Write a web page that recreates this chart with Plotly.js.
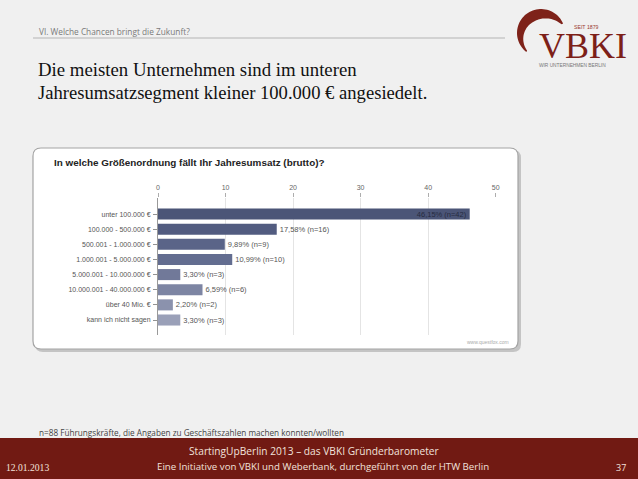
<!DOCTYPE html>
<html><head><meta charset="utf-8">
<script src="https://cdn.plot.ly/plotly-3.0.1.min.js"></script>
<style>html,body{margin:0;padding:0;background:#f0f0f0;}#chart{width:638px;height:479px;}</style>
</head><body><div id="chart"></div>
<script>
const categories = ["unter 100.000 €","100.000 - 500.000 €","500.001 - 1.000.000 €","1.000.001 - 5.000.000 €","5.000.001 - 10.000.000 €","10.000.001 - 40.000.000 €","über 40 Mio. €","kann ich nicht sagen"];
const percents = [46.15, 17.58, 9.89, 10.99, 3.30, 6.59, 2.20, 3.30];
const counts = [42, 16, 9, 10, 3, 6, 2, 3];
const barColors = ["#4b5577","#525c80","#5a6488","#636d90","#717999","#7d85a3","#8b92ad","#9aa0b8"];
const xTicks = [0, 10, 20, 30, 40, 50];

const W = 638, H = 479;
const px = x => x / W;
const py = y => 1 - y / H;

const labels = percents.map((p, i) => p.toFixed(2).replace('.', ',') + '% (n=' + counts[i] + ')');
const positions = percents.map((p, i) => i === 0 ? 'inside' : 'outside');

const trace = {
  type: 'bar', orientation: 'h',
  x: percents, y: categories,
  marker: {color: barColors, line: {width: 0}},
  text: labels, textposition: positions, insidetextanchor: 'end',
  constraintext: 'none', textangle: 0, cliponaxis: false,
  textfont: {family: 'Liberation Sans, Arial, sans-serif', size: 7.5, color: '#555'},
  insidetextfont: {family: 'Liberation Sans, Arial, sans-serif', size: 7.5, color: '#262b40'},
  outsidetextfont: {family: 'Liberation Sans, Arial, sans-serif', size: 7.5, color: '#555'},
  hoverinfo: 'skip'
};

function pathFrom(pts) {
  return 'M' + pts.map(p => px(p[0]).toFixed(5) + ',' + py(p[1]).toFixed(5)).join(' L') + ' Z';
}
// logo crescent: screen angles (y down), from upper right over the top, down the left side
function crescent() {
  const cx = 541, cy = 33, R = 24, pts = [];
  const a0 = -23, a1 = -232, n = 48;
  for (let i = 0; i <= n; i++) {
    const a = (a0 + (a1 - a0) * i / n) * Math.PI / 180;
    pts.push([cx + R * Math.cos(a), cy + R * Math.sin(a)]);
  }
  for (let i = n; i >= 0; i--) {
    const t = i / n;
    const a = (a0 + (a1 - a0) * t) * Math.PI / 180;
    const th = 1.5 + 9 * Math.sin(Math.PI * Math.pow(t, 0.85));
    pts.push([cx + (R - th) * Math.cos(a), cy + (R - th) * Math.sin(a)]);
  }
  return pathFrom(pts);
}
function roundRect(x0, y0, x1, y1, r) {
  const P = (x, y) => px(x).toFixed(5) + ',' + py(y).toFixed(5);
  return 'M' + P(x0 + r, y0) + ' L' + P(x1 - r, y0) + ' Q' + P(x1, y0) + ' ' + P(x1, y0 + r) +
    ' L' + P(x1, y1 - r) + ' Q' + P(x1, y1) + ' ' + P(x1 - r, y1) +
    ' L' + P(x0 + r, y1) + ' Q' + P(x0, y1) + ' ' + P(x0, y1 - r) +
    ' L' + P(x0, y0 + r) + ' Q' + P(x0, y0) + ' ' + P(x0 + r, y0) + ' Z';
}

const shapes = [
  {type: 'line', xref: 'paper', yref: 'paper', x0: px(33), x1: px(505), y0: py(38), y1: py(38), line: {color: '#b4b4b4', width: 1}},
  {type: 'path', xref: 'paper', yref: 'paper', path: roundRect(35, 150, 521, 352, 8), fillcolor: '#c4c4c4', line: {width: 0}, layer: 'below'},
  {type: 'path', xref: 'paper', yref: 'paper', path: roundRect(33, 148, 518, 349, 8), fillcolor: '#ffffff', line: {color: '#a4a4a4', width: 1.2}, layer: 'below'},
  {type: 'rect', xref: 'paper', yref: 'paper', x0: 0, x1: 1, y0: 0, y1: py(438), fillcolor: '#711a13', line: {width: 0}},
  {type: 'path', xref: 'paper', yref: 'paper', path: crescent(), fillcolor: '#7e2219', line: {width: 0}}
];

const ann = (text, x, y, size, color, opts) => Object.assign({
  text, x: px(x), y: py(y), xref: 'paper', yref: 'paper', showarrow: false,
  xanchor: 'left', yanchor: 'middle', font: {size, color, family: 'Liberation Sans, Arial, sans-serif'}
}, opts || {});
const F = (size, color, family) => ({font: {size, color, family}});

const annotations = [
  ann('VI. Welche Chancen bringt die Zukunft?', 37, 31, 8, '#7a7a7a', F(8.3, '#7a7a7a', 'Open Sans, sans-serif')),
  ann('Die meisten Unternehmen sind im unteren', 36, 70, 18.6, '#111', F(18.8, '#111', 'Liberation Serif, serif')),
  ann('Jahresumsatzsegment kleiner 100.000 € angesiedelt.', 36, 92, 18.6, '#111', F(18.6, '#111', 'Liberation Serif, serif')),
  ann('<b>In welche Größenordnung fällt Ihr Jahresumsatz (brutto)?</b>', 52, 163, 9.9, '#222'),
  ann('www.questfox.com', 511, 342, 5, '#aaa', {xanchor: 'right'}),
  ann('n=88 Führungskräfte, die Angaben zu Geschäftszahlen machen konnten/wollten', 37, 432, 8, '#444', F(8.2, '#444', 'Open Sans, sans-serif')),
  ann('StartingUpBerlin 2013 – das VBKI Gründerbarometer', 314, 451, 10, '#f1e2dc', Object.assign({xanchor: 'center'}, F(10.2, '#f1e2dc', 'Open Sans, sans-serif'))),
  ann('Eine Initiative von VBKI und Weberbank, durchgeführt von der HTW Berlin', 323, 466, 10, '#f1e2dc', Object.assign({xanchor: 'center'}, F(9.7, '#f1e2dc', 'Open Sans, sans-serif'))),
  ann('12.01.2013', 4, 467, 9.5, '#f1e2dc', F(9.6, '#f1e2dc', 'Liberation Serif, serif')),
  ann('37', 628, 467, 9, '#f1e2dc', Object.assign({xanchor: 'right'}, F(9, '#f1e2dc', 'Open Sans, sans-serif'))),
  ann('VBKI', 537, 46, 36, '#7d1f18', F(36, '#7d1f18', 'Liberation Serif, serif')),
  ann('SEIT 1879', 601, 27, 5, '#9b3a30', Object.assign({xanchor: 'right'}, F(5.2, '#9b3a30', 'Liberation Sans, sans-serif'))),
  ann('WIR UNTERNEHMEN BERLIN', 572, 65, 4.8, '#777', Object.assign({xanchor: 'center'}, F(4.8, '#777', 'Liberation Sans, sans-serif')))
];

const layout = {
  width: W, height: H,
  margin: {l: 0, r: 0, t: 0, b: 0},
  paper_bgcolor: '#f0f0f0', plot_bgcolor: 'rgba(0,0,0,0)',
  showlegend: false, bargap: 0.27,
  font: {family: 'Liberation Sans, Arial, sans-serif', size: 7, color: '#555'},
  xaxis: {
    domain: [px(158), px(495.7)], range: [0, 50], side: 'top', anchor: 'y',
    tickvals: xTicks, ticks: 'outside', ticklen: 4, tickcolor: '#999', tickwidth: 0.8,
    showgrid: true, gridcolor: '#e4e4e4', gridwidth: 1, zeroline: false, showline: false,
    tickfont: {size: 7, color: '#666'}, fixedrange: true
  },
  yaxis: {
    domain: [py(335), py(198)], type: 'category', categoryarray: categories,
    range: [7.99, -1.06], ticks: 'outside', ticklen: 4, tickcolor: '#777', tickwidth: 0.8,
    showline: true, linecolor: '#999', linewidth: 1, showgrid: false, zeroline: false,
    tickfont: {size: 7, color: '#555'}, ticklabelstandoff: 1, fixedrange: true
  },
  shapes, annotations
};

Plotly.newPlot('chart', [trace], layout, {displayModeBar: false, staticPlot: true});
</script></body></html>
